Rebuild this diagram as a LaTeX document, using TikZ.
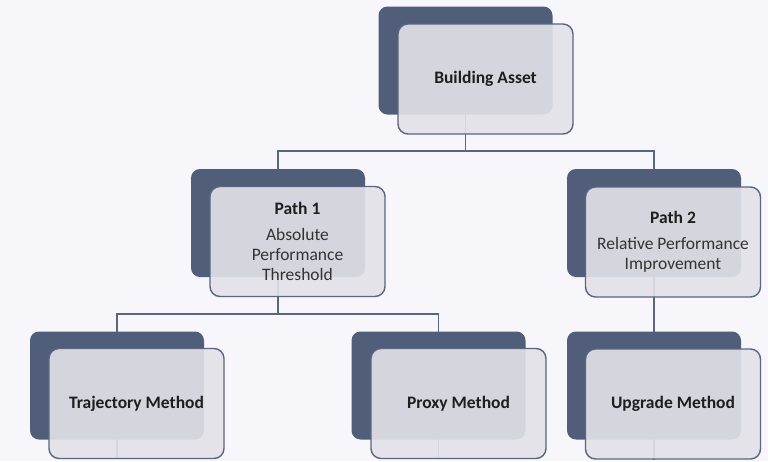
\documentclass[tikz,border=0pt]{standalone}
\usepackage{fontspec}
\setmainfont{Carlito}
\definecolor{bgc}{HTML}{F7F6FB}
\definecolor{darkc}{HTML}{505E7A}
\definecolor{lightc}{HTML}{E3E2E8}
\definecolor{linec}{HTML}{5A6581}
\definecolor{titlec}{HTML}{1E1E1E}
\definecolor{textc}{HTML}{333333}
\pgfdeclarelayer{bglayer}
\pgfdeclarelayer{connlayer}
\pgfsetlayers{bglayer,connlayer,main}
\tikzset{
  darkbox/.style={fill=darkc, rounded corners=9pt, inner sep=0pt, minimum width=174pt, minimum height=108pt},
  lightbox/.style={fill=lightc, fill opacity=0.9, text opacity=1, draw=linec, line width=1.4pt, rounded corners=10pt, inner sep=0pt, minimum width=175pt, minimum height=110pt, align=center, font=\fontsize{17.5}{20}\selectfont, text=textc},
  conn/.style={draw=linec, line width=1.5pt}
}
\newcommand{\ttlx}[1]{{\bfseries\color{titlec}#1}}
\begin{document}
\begin{tikzpicture}[x=1pt,y=-1pt]
\begin{pgfonlayer}{bglayer}
\fill[bgc] (0,0) rectangle (768,461);
\end{pgfonlayer}
\useasboundingbox (0,0) rectangle (768,461);
% dark boxes
\node[darkbox] (d0) at (465.5,60.5) {};
\node[darkbox] (d1) at (278,223) {};
\node[darkbox] (d2) at (654,223) {};
\node[darkbox] (d3) at (117,385.5) {};
\node[darkbox] (d4) at (438.5,385.5) {};
\node[darkbox] (d5) at (654,385.5) {};
% light boxes
\node[lightbox] (l0) at (485.5,79) {\ttlx{Building Asset}};
\node[lightbox] (l1) at (297.5,241.5) {\ttlx{Path 1}\\[6pt]Absolute\\Performance\\Threshold};
\node[lightbox] (l2) at (673,242) {\ttlx{Path 2}\\[6pt]Relative Performance\\Improvement};
\node[lightbox] (l3) at (136.5,403.5) {\ttlx{Trajectory Method}};
\node[lightbox] (l4) at (458.5,403.5) {\ttlx{Proxy Method}};
\node[lightbox] (l5) at (673,404) {\ttlx{Upgrade Method}};
% connectors
\coordinate (j0) at (465.5,151);
\coordinate (j1) at (278,314);
\begin{pgfonlayer}{connlayer}
\draw[conn] (d0.center) -- (j0) -| (d1.center);
\draw[conn] (j0) -| (d2.center);
\draw[conn] (d1.center) -- (j1) -| (d3.center);
\draw[conn] (j1) -| (d4.center);
\draw[conn] (d2.center) -- (d5.center);
\draw[conn] (d3.center) -- (d3.center |- l3.south);
\draw[conn] (d4.center) -- (d4.center |- l4.south);
\draw[conn] (d5.center) -- (d5.center |- l5.south);
\end{pgfonlayer}
\end{tikzpicture}
\end{document}
